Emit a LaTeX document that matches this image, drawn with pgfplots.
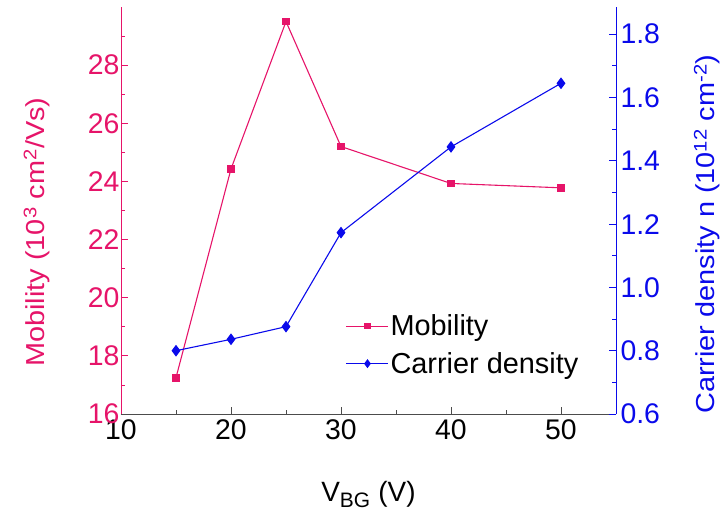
\documentclass[border=0pt]{standalone}
\usepackage{fontspec}
\setmainfont{Liberation Sans}
\usepackage{pgfplots}
\pgfplotsset{compat=1.18}
\definecolor{mob}{RGB}{230,20,105}
\definecolor{car}{RGB}{10,10,235}
\begin{document}
\begin{tikzpicture}
\pgfplotsset{
  every axis/.append style={
    scale only axis, width=495bp, height=407bp,
    xmin=10, xmax=55,
    tick align=inside,
    /pgf/number format/assume math mode=true,
    major tick length=7bp, minor tick length=4bp,
    tick label style={font=\fontsize{28.5}{30}\selectfont},
    label style={font=\fontsize{29}{30}\selectfont},
  }
}
\begin{axis}[
  name=ax,
  axis x line*=bottom, axis y line*=left,
  x axis line style={black!70, line width=1pt, -},
  y axis line style={mob, line width=1pt, -},
  ymin=16, ymax=30,
  ytick={16,18,...,28}, minor ytick={17,19,...,29},
  xtick={10,20,...,50}, minor xtick={15,25,...,55},
  yticklabel style={mob, /pgf/number format/fixed, xshift=2bp},
  xticklabel style={yshift=-2bp},
  ytick style={mob, line width=0.8pt},
  xtick style={black!70, line width=0.8pt},
  xlabel={V\textsubscript{\fontsize{21}{22}\selectfont BG} (V)},
  ylabel={\scalebox{1}[0.9]{Mobility (10\textsuperscript{3} cm\textsuperscript{2}/Vs)}},
  ylabel style={mob, at={(axis description cs:-0.17,0.447)}, anchor=center},
  xlabel style={font=\fontsize{28}{30}\selectfont, at={(axis description cs:0.5,-0.216)}, anchor=base},
]
\addplot[mob, line width=1.1pt, mark=square*, mark size=3.3bp] coordinates {
(15,17.25) (20,24.43) (25,29.5) (30,25.2) (40,23.93) (50,23.78)};
\end{axis}
\begin{axis}[
  axis x line=none, axis y line*=right,
  y axis line style={car, line width=1pt, -},
  ymin=0.6, ymax=1.886,
  ytick={0.6,0.8,...,1.81}, minor ytick={0.7,0.9,...,1.75},
  yticklabel style={car, /pgf/number format/fixed, /pgf/number format/fixed zerofill, /pgf/number format/precision=1, xshift=1bp},
  ytick style={car, line width=0.8pt},
  ylabel={\scalebox{1}[0.9]{Carrier density n (10\textsuperscript{12} cm\textsuperscript{-2})}},
  ylabel style={car, at={(axis description cs:1.184,0.442)}, anchor=center},
  legend style={draw=none, fill=none, at={(0.454,0.092)}, anchor=south west,
    font=\fontsize{29}{31}\selectfont, row sep=12bp, inner sep=0pt,
    nodes={inner sep=1.5bp}},
  legend cell align=left,
  legend image code/.code={
    \draw[mark repeat=2, mark phase=2] plot coordinates {(0bp,0bp) (21bp,0bp) (42bp,0bp)};
  },
]
\addlegendimage{mob, line width=1.1pt, mark=square*, mark size=2.6bp}
\addlegendentry{Mobility}
\addplot[car, line width=1.1pt, mark=diamond*, mark size=5bp, forget plot] coordinates {
(15,0.80) (20,0.836) (25,0.876) (30,1.173) (40,1.444) (50,1.645)};
\addlegendimage{car, line width=1.1pt, mark=diamond*, mark size=3.6bp}
\addlegendentry{Carrier density}
\end{axis}
\pgfresetboundingbox
\path[use as bounding box] ([shift={(-121bp,-99bp)}]ax.south west) rectangle ++(725bp,513bp);
\end{tikzpicture}
\end{document}
